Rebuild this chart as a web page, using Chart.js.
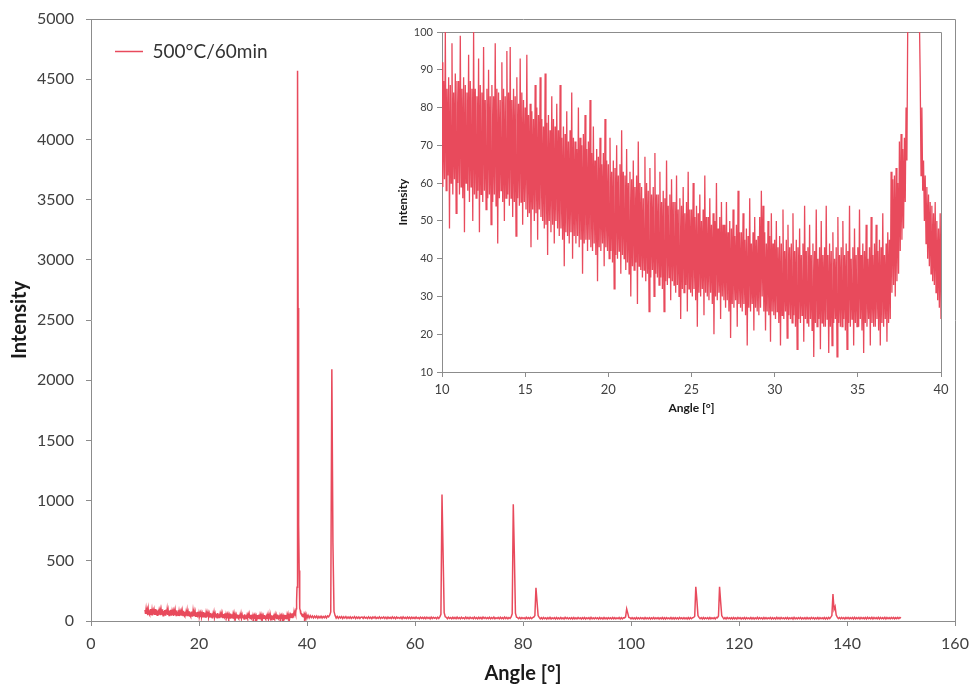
<!DOCTYPE html>
<html>
<head>
<meta charset="utf-8">
<title>XRD 500°C/60min</title>
<script src="https://cdn.jsdelivr.net/npm/chart.js@4.4.1/dist/chart.umd.min.js"></script>
<style>
  html, body { margin: 0; padding: 0; background: #fff; }
  #wrap { position: relative; width: 972px; height: 686px; overflow: hidden; }
  #main { position: absolute; left: 0; top: 0; }
  #inset { position: absolute; left: 390px; top: 22px; }
</style>
</head>
<body>
<div id="wrap">
  <canvas id="main" width="972" height="686"></canvas>
  <canvas id="inset" width="563" height="400"></canvas>
</div>
<script>
const seriesLabel = '500°C/60min';

// fine scan 10.00 .. 40.00 deg, step 0.05 (20 values per degree)
const scanStart = 10;
const scanStep = 0.05;
const scanCounts = [
  92, 59, 87, 61, 100, 58, 85, 62, 88, 48, 86, 60, 97, 57, 84, 61, 89, 52, 87, 60,   // 10
  87, 57, 99, 59, 85, 56, 88, 47, 86, 60, 84, 58, 94, 55, 87, 59, 85, 50, 100, 57,   // 11
  85, 56, 83, 58, 93, 47, 86, 57, 84, 55, 96, 58, 82, 53, 85, 56, 90, 57, 83, 49,    // 12
  86, 55, 83, 57, 97, 54, 85, 44, 84, 56, 82, 58, 92, 55, 85, 50, 83, 56, 95, 57,    // 13
  84, 54, 96, 56, 82, 51, 85, 55, 83, 46, 88, 56, 81, 54, 93, 55, 84, 49, 82, 55,    // 14
  80, 53, 94, 51, 78, 52, 81, 43, 79, 53, 77, 50, 86, 52, 80, 45, 78, 53, 88, 51,    // 15
  77, 50, 75, 48, 89, 49, 76, 41, 78, 50, 74, 47, 83, 49, 77, 44, 75, 50, 81, 48,    // 16
  74, 46, 86, 48, 72, 45, 75, 38, 73, 47, 79, 46, 71, 44, 74, 47, 84, 40, 72, 46,    // 17
  71, 44, 69, 46, 80, 43, 72, 45, 70, 36, 73, 44, 78, 45, 69, 42, 71, 45, 82, 43,    // 18
  68, 42, 75, 44, 66, 41, 69, 34, 67, 43, 72, 42, 65, 44, 68, 38, 77, 43, 66, 42,    // 19
  65, 40, 72, 42, 63, 39, 66, 32, 64, 41, 70, 40, 62, 42, 65, 36, 74, 41, 63, 40,    // 20
  62, 37, 69, 39, 60, 36, 63, 30, 61, 38, 66, 37, 59, 39, 62, 28, 71, 38, 60, 37,    // 21
  59, 35, 56, 37, 67, 34, 60, 36, 58, 26, 64, 35, 57, 37, 59, 30, 68, 36, 57, 35,    // 22
  57, 33, 63, 35, 55, 32, 58, 26, 56, 34, 66, 33, 54, 35, 57, 29, 61, 34, 55, 33,    // 23
  55, 31, 62, 33, 53, 30, 56, 24, 54, 32, 59, 31, 52, 33, 55, 26, 63, 32, 53, 31,    // 24
  53, 30, 60, 32, 51, 29, 54, 22, 52, 31, 57, 30, 50, 32, 53, 25, 62, 31, 51, 30,    // 25
  51, 29, 56, 31, 49, 28, 52, 20, 50, 30, 60, 29, 48, 31, 51, 24, 55, 30, 49, 29,    // 26
  49, 27, 55, 29, 47, 26, 50, 19, 48, 28, 53, 27, 46, 29, 49, 22, 58, 28, 47, 27,    // 27
  47, 26, 52, 28, 45, 25, 48, 17, 46, 27, 56, 26, 44, 28, 47, 21, 51, 27, 45, 26,    // 28
  46, 25, 51, 27, 58, 30, 54, 26, 47, 21, 44, 26, 50, 25, 46, 18, 52, 26, 44, 25,    // 29
  45, 24, 50, 26, 43, 23, 46, 17, 44, 25, 53, 24, 42, 26, 45, 19, 49, 25, 43, 24,    // 30
  44, 23, 52, 25, 42, 22, 45, 16, 43, 24, 48, 23, 41, 25, 44, 18, 54, 24, 42, 23,    // 31
  43, 22, 49, 24, 41, 21, 44, 14, 42, 23, 53, 22, 40, 24, 43, 16, 50, 23, 41, 22,    // 32
  43, 22, 54, 24, 41, 15, 44, 22, 42, 17, 47, 23, 40, 24, 43, 14, 51, 23, 41, 22,    // 33
  43, 22, 50, 24, 41, 21, 44, 16, 42, 23, 54, 22, 40, 24, 43, 17, 48, 23, 41, 22,    // 34
  43, 22, 53, 24, 41, 21, 44, 15, 42, 23, 49, 22, 40, 24, 43, 17, 51, 23, 41, 22,    // 35
  44, 22, 49, 24, 42, 21, 45, 17, 43, 23, 52, 22, 41, 24, 44, 18, 47, 23, 45, 24,    // 36
  63, 31, 61, 33, 62, 30, 64, 34, 60, 36, 71, 42, 73, 45, 69, 48, 72, 55, 80, 66,    // 37
  102, 125, 170, 280, 700, 2300, 4570, 2600, 2450, 1600, 800, 420, 230, 140, 104, 88, 62, 80, 58, 66, // 38
  50, 62, 44, 59, 40, 57, 38, 55, 36, 54, 34, 52, 33, 55, 31, 50, 29, 48, 27, 52,    // 39
  24                                                                                 // 40
];

// wide scan 40.2 .. 150.0 deg, step 0.2
const wideStart = 40.2;
const wideStep = 0.2;
const wideCounts = [
  48, 26, 44, 28, 42, 25, 40, 27, 41, 24, 39, 26, 40, 25, 38, 27, 41, 26, 43, 35, 48,   // 40.2 - 44.2
  75, 2090, 650, 80, 45,                                                                // 44.4 - 45.2
  24, 38, 22, 36, 25, 37, 21, 35, 24, 36, 22, 34, 23, 35, 21, 33, 24, 36, 20, 34, 23, 33, 21, 32, // 45.4 - 50.0
  33, 21, 35, 23, 31, 20, 34, 22, 32, 19,                                               // 50.2 - 64.6
  33, 24, 35, 21, 30, 22, 34, 20, 31, 23,
  34, 21, 32, 19, 33, 22, 30, 20, 35, 22,
  31, 19, 33, 23, 30, 21, 32, 18, 34, 22,
  30, 20, 33, 21, 31, 19, 32, 22, 30, 20,
  33, 21, 29, 19, 32, 22, 30, 20, 31, 19,
  32, 21, 30, 18, 33, 20, 31, 22, 29, 19,
  32, 21, 34,
  55, 1050, 565, 70, 35,                                                                // 64.8 - 65.6
  30, 19, 32, 21, 29, 18, 31, 20, 30, 19,                                               // 65.8 - 77.8
  33, 20, 29, 18, 31, 21, 28, 19, 32, 20,
  30, 18, 31, 21, 29, 19, 33, 20, 28, 18,
  31, 20, 29, 17, 32, 21, 30, 19, 28, 20,
  31, 18, 29, 20, 32, 19, 28, 21, 30, 18,
  31, 20, 28, 19, 32, 20, 30, 18, 29, 21,
  34,
  60, 970, 548, 65, 32,                                                                 // 78.0 - 78.8
  28, 19, 30, 18, 29, 20, 27, 18, 31, 19, 28, 20, 30, 19, 29, 33,                       // 79.0 - 82.0
  45, 276, 160, 45,                                                                     // 82.2 - 82.8
  30, 18, 28, 17, 29, 19, 27, 16, 28, 18,                                               // 83.0 - 98.8
  30, 17, 27, 19, 28, 16, 29, 18, 26, 17,
  29, 18, 27, 16, 30, 19, 28, 17, 27, 18,
  28, 16, 29, 18, 26, 17, 30, 19, 27, 16,
  28, 18, 29, 17, 27, 19, 28, 16, 30, 18,
  27, 17, 28, 19, 26, 16, 29, 18, 27, 17,
  29, 18, 27, 16, 28, 19, 26, 17, 29, 18,
  28, 17, 27, 19, 29, 16, 28, 18, 27, 26,
  35, 100, 65, 30,                                                                      // 99.0 - 99.6
  27, 17, 28, 18, 26, 16, 29, 18, 27, 17,                                               // 99.8 - 111.6
  28, 19, 26, 16, 29, 18, 27, 17, 28, 16,
  27, 18, 29, 17, 26, 19, 28, 16, 27, 18,
  29, 17, 27, 16, 28, 19, 26, 18, 29, 17,
  27, 16, 28, 18, 27, 17, 29, 19, 26, 17,
  28, 18, 27, 16, 29, 17, 28, 19, 27, 30,
  40, 285, 175, 45,                                                                     // 111.8 - 112.4
  30, 19, 28, 17, 29, 18, 27, 19, 28, 17, 29, 18, 27, 19, 28, 17, 30, 26, 42,           // 112.6 - 116.2
  285, 160, 45,                                                                         // 116.4 - 116.8
  30, 18, 28, 17, 29, 19, 27, 18, 28, 16,                                               // 117.0 - 137.0
  29, 18, 27, 17, 30, 19, 28, 16, 27, 18,
  29, 17, 28, 19, 26, 18, 29, 17, 28, 16,
  27, 18, 30, 17, 28, 19, 27, 16, 29, 18,
  28, 17, 27, 19, 29, 16, 28, 18, 27, 17,
  30, 18, 28, 16, 29, 19, 27, 17, 28, 18,
  29, 17, 27, 19, 28, 16, 30, 18, 27, 17,
  28, 19, 29, 17, 27, 18, 28, 16, 29, 18,
  27, 17, 30, 19, 28, 16, 27, 18, 29, 17,
  28, 19, 27, 18, 29, 16, 28, 17, 30, 20,
  32,
  45, 224, 95, 119, 50,                                                                 // 137.2 - 138.0
  32, 20, 29, 18, 30, 19, 28, 17, 29, 19,                                               // 138.2 - 150.0
  30, 18, 28, 19, 29, 17, 30, 18, 28, 19,
  29, 17, 30, 19, 28, 18, 29, 17, 31, 19,
  28, 18, 30, 17, 29, 19, 28, 18, 30, 17,
  29, 19, 28, 18, 30, 17, 29, 19, 28, 18,
  30, 19, 29, 18, 28, 20, 30, 19, 29, 24
];

const mainXTicks = { min: 0, max: 160, step: 20 };
const mainYTicks = { min: 0, max: 5000, step: 500 };
const insetXTicks = { min: 10, max: 40, step: 5 };
const insetYTicks = { min: 10, max: 100, step: 10 };

const lineColor = '#E84A5C';
const axisColor = '#8c8c8c';

function toPoints(start, step, counts) {
  return counts.map((c, i) => ({ x: +(start + i * step).toFixed(2), y: c }));
}
const scanPoints = toPoints(scanStart, scanStep, scanCounts);
const widePoints = toPoints(wideStart, wideStep, wideCounts);

Chart.defaults.font.family = 'Lato, "Open Sans", sans-serif';
Chart.defaults.animation = false;

// gray box round the plot area
const framePlugin = {
  id: 'frame',
  beforeDatasetsDraw(chart) {
    const { ctx, chartArea: a } = chart;
    ctx.save();
    ctx.strokeStyle = axisColor;
    ctx.lineWidth = 1;
    ctx.beginPath();
    ctx.moveTo(Math.round(a.left) + 0.5, Math.round(a.top) + 0.5);
    ctx.lineTo(Math.round(a.right) + 0.5, Math.round(a.top) + 0.5);
    ctx.lineTo(Math.round(a.right) + 0.5, Math.round(a.bottom) + 0.5);
    ctx.stroke();
    ctx.restore();
  }
};

// fixed axis size; the layout padding alone decides the plot edges
function fixSize(prop, size) {
  return s => {
    s[prop] = size;
    s.paddingLeft = s.paddingRight = s.paddingTop = s.paddingBottom = 0;
  };
}

function axis(t, title, opts) {
  return {
    type: 'linear',
    min: t.min,
    max: t.max,
    grid: { drawOnChartArea: false, drawTicks: true, tickLength: 5, color: axisColor },
    border: { display: true, color: axisColor },
    ticks: {
      stepSize: t.step,
      color: '#404040',
      font: { size: opts.tickSize },
      padding: opts.tickPad,
      maxRotation: 0,
      callback: v => String(v)   // no thousands separator
    },
    title: { display: true, text: title, color: '#1a1a1a', font: { size: opts.titleSize, weight: 'bold' }, padding: opts.titlePad },
    afterFit: opts.fit
  };
}

new Chart(document.getElementById('main'), {
  type: 'line',
  data: {
    datasets: [{
      label: seriesLabel,
      data: scanPoints.concat(widePoints),
      borderColor: lineColor,
      backgroundColor: lineColor,
      borderWidth: 1.5,
      pointRadius: 0,
      tension: 0
    }]
  },
  options: {
    responsive: false,
    layout: { padding: { left: 0, top: 19, right: 17, bottom: 0 } },
    plugins: {
      legend: {
        position: 'chartArea',
        align: 'start',
        title: { display: true, text: ' ', font: { size: 10 }, padding: 3 },
        labels: {
          usePointStyle: true,
          pointStyle: 'line',
          pointStyleWidth: 28,
          padding: 24,
          color: '#333',
          font: { size: 19 }
        }
      },
      tooltip: { enabled: false }
    },
    scales: {
      x: axis(mainXTicks, 'Angle [°]', { tickSize: 16, tickPad: 8, titleSize: 20, titlePad: { top: 0, bottom: 0 }, fit: fixSize('height', 65) }),
      y: axis(mainYTicks, 'Intensity', { tickSize: 16, tickPad: 12, titleSize: 20, titlePad: { top: 8, bottom: 0 }, fit: fixSize('width', 91) })
    }
  },
  plugins: [framePlugin]
});

new Chart(document.getElementById('inset'), {
  type: 'line',
  data: {
    datasets: [{
      label: seriesLabel,
      data: scanPoints,
      borderColor: lineColor,
      borderWidth: 1.3,
      pointRadius: 0,
      tension: 0
    }]
  },
  options: {
    responsive: false,
    layout: { padding: { left: 0, top: 10, right: 12, bottom: 0 } },
    plugins: { legend: { display: false }, tooltip: { enabled: false } },
    scales: {
      x: axis(insetXTicks, 'Angle [°]', { tickSize: 13, tickPad: 5, titleSize: 12, titlePad: { top: 0, bottom: 7 }, fit: fixSize('height', 50) }),
      y: axis(insetYTicks, 'Intensity', { tickSize: 11, tickPad: 4, titleSize: 12, titlePad: { top: 6, bottom: 0 }, fit: fixSize('width', 52) })
    }
  },
  plugins: [framePlugin]
});
</script>
</body>
</html>
